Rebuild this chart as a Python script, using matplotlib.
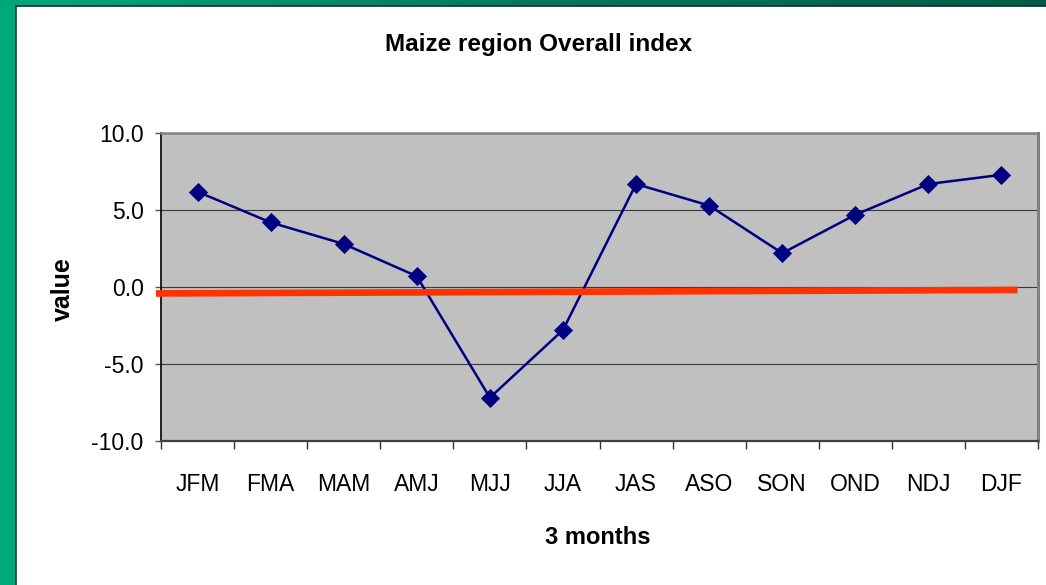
import matplotlib
matplotlib.use("Agg")
import matplotlib.pyplot as plt
import numpy as np
from matplotlib.patches import Rectangle
from matplotlib.lines import Line2D
from matplotlib.colors import LinearSegmentedColormap

# Three-month seasons and the overall index for the maize region
seasons = ["JFM", "FMA", "MAM", "AMJ", "MJJ", "JJA",
           "JAS", "ASO", "SON", "OND", "NDJ", "DJF"]
index_values = [6.2, 4.2, 2.8, 0.7, -7.2, -2.8,
                6.7, 5.3, 2.2, 4.7, 6.7, 7.3]

# Hand-drawn reference stroke near zero (season position, value)
ref_x = [-0.57, 11.22]
ref_y = [-0.42, -0.19]

y_ticks = [-10, -5, 0, 5, 10]

plt.rcParams["font.family"] = ["Liberation Sans", "DejaVu Sans"]

W, H = 1046, 585
fig = plt.figure(figsize=(W / 100, H / 100), dpi=100)
fig.patch.set_facecolor("#00A87C")

# top green bar with a left-to-right shade
bar = fig.add_axes([0, 1 - 6 / H, 1, 6 / H])
bar.set_axis_off()
grad = np.linspace(0, 1, 256).reshape(1, -1)
cmap = LinearSegmentedColormap.from_list("bar", ["#00A87C", "#007A5C", "#005C45"])
bar.imshow(grad, aspect="auto", cmap=cmap, extent=[0, 1, 0, 1])

# white slide panel
fig.patches.append(Rectangle((16 / W, 0), 1 - 16 / W, (H - 6) / H,
                             transform=fig.transFigure, facecolor="white",
                             edgecolor="none", zorder=1))
fig.lines.append(Line2D([15.5 / W, 15.5 / W], [0, (H - 5.5) / H],
                        transform=fig.transFigure, color="#1d3b32", lw=1.2, zorder=2))
fig.lines.append(Line2D([15.5 / W, 1], [(H - 5.5) / H, (H - 5.5) / H],
                        transform=fig.transFigure, color="#0d2a22", lw=1.2, zorder=2))

left, right = 161 / W, 1038 / W
top, bottom = 1 - 133.3 / H, 1 - 440.7 / H
ax = fig.add_axes([left, bottom, right - left, top - bottom], zorder=3)
ax.set_facecolor("#C0C0C0")

x = np.arange(len(seasons))
ax.set_xlim(-0.5, len(seasons) - 0.5)
ax.set_ylim(-10, 10)

for v in [-5, 0, 5]:
    ax.axhline(v, color="#3a3a3a", lw=0.8, zorder=1)

ax.plot(x, index_values, color="#000080", lw=1.8, marker="D",
        markersize=9, markerfacecolor="#000080", markeredgecolor="#000080",
        markeredgewidth=0.6, zorder=3)

ax.plot(ref_x, ref_y, color="#FF3300", lw=4.8, solid_capstyle="butt",
        clip_on=False, zorder=5)

ax.set_yticks(y_ticks)
ax.set_yticklabels([f"{v:.1f}" for v in y_ticks])
ax.set_xticks(x)
ax.set_xticklabels(seasons)
ax.set_xticks(np.arange(-0.5, len(seasons)), minor=True)
ax.tick_params(axis="x", which="major", length=0, pad=23, labelsize=16.5)
ax.tick_params(axis="x", which="minor", length=5.5, width=1.0, color="#333333",
               direction="out")
ax.tick_params(axis="y", which="major", length=4.5, width=1.0, color="#555555",
               direction="out", pad=8, labelsize=16.5)

ax.spines["left"].set_color("#000000")
ax.spines["left"].set_linewidth(1.2)
ax.spines["bottom"].set_color("#404040")
ax.spines["bottom"].set_linewidth(1.6)
ax.spines["top"].set_color("#808080")
ax.spines["top"].set_linewidth(1.8)
ax.spines["right"].set_color("#808080")
ax.spines["right"].set_linewidth(2.2)

fig.text(539 / W, 1 - 45 / H, "Maize region Overall index", ha="center",
         va="center", fontsize=17.5, fontweight="bold", zorder=4)
fig.text(598 / W, 1 - 537 / H, "3 months", ha="center", va="center",
         fontsize=17, fontweight="bold", zorder=4)
fig.text(63 / W, 1 - 289 / H, "value", ha="center", va="center",
         rotation=90, fontsize=18, fontweight="bold", zorder=4)

fig.savefig("out.png", dpi=100, facecolor=fig.get_facecolor())
